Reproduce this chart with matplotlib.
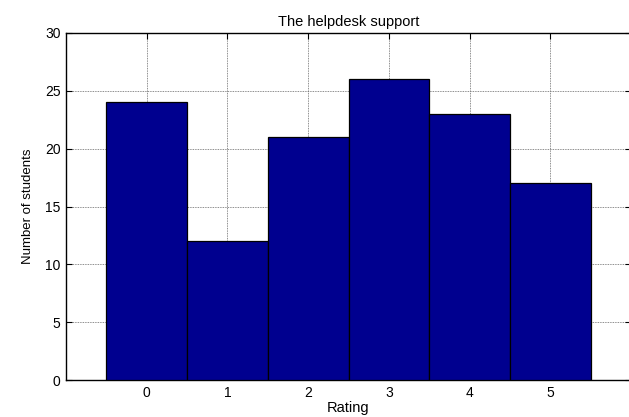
import matplotlib
matplotlib.use("Agg")
import matplotlib.pyplot as plt

rating = [0, 1, 2, 3, 4, 5]
students = [24, 12, 21, 26, 23, 17]

plt.rcParams['font.family'] = ['Liberation Sans', 'DejaVu Sans']
plt.rcParams['font.size'] = 10

fig = plt.figure(figsize=(6.29, 4.17), dpi=100)
# right spine sits just outside the picture, as in the reference
ax = fig.add_axes([66/629, 1-380/417, (631-66)/629, (380-33)/417])
ax.bar(rating, students, width=1.0, color='#00008f', edgecolor='black', linewidth=0.9, zorder=3)
ax.set_xlim(-1, 6)
ax.set_ylim(0, 30)
ax.set_xticks(rating)
ax.set_yticks(range(0, 31, 5))
ax.grid(True, linestyle=(0, (1, 1)), color='#666666', linewidth=0.6, zorder=0)
ax.tick_params(direction='in', length=4, top=True, right=True, pad=4)
for s in ax.spines.values():
    s.set_linewidth(1.0)
ax.set_title('The helpdesk support', fontsize=10.5, pad=5)
ax.set_xlabel('Rating', fontsize=10.5, labelpad=1)
ax.set_ylabel('Number of students', fontsize=9.5, labelpad=8)
fig.savefig('out.png', dpi=100)
